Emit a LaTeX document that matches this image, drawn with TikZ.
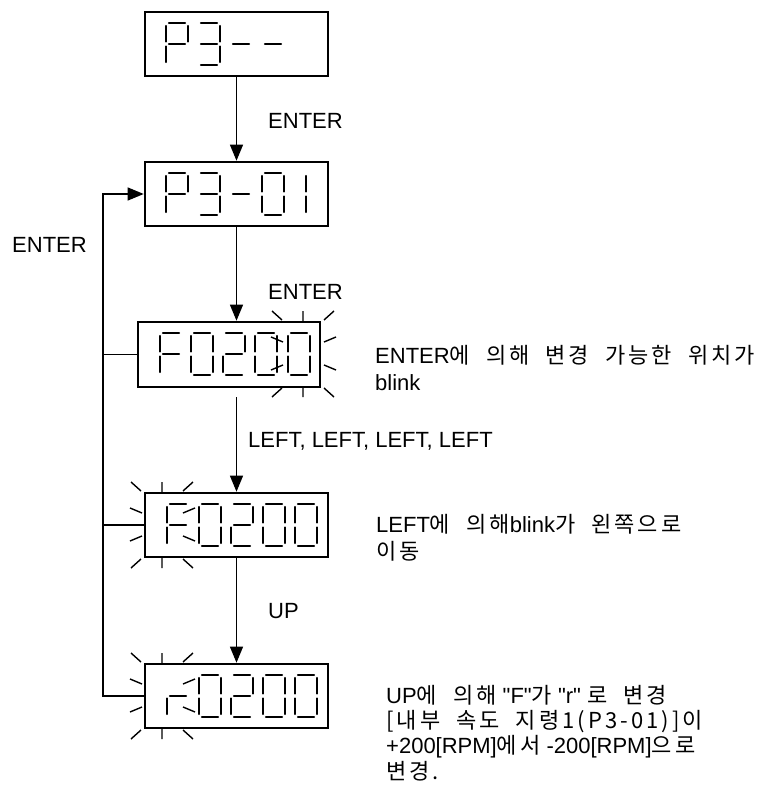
\documentclass[tikz,border=0pt]{standalone}
\usepackage{fontspec}
\setmainfont{Liberation Sans}[Ligatures=TeXOff]
\newfontfamily\kr{Noto Sans CJK KR}[Scale=1.0,LetterSpace=14,WordSpace=2.0,Ligatures=TeXOff]
\usetikzlibrary{arrows.meta}
\tikzset{
  dispbox/.style={draw, line width=2.6pt, minimum width=183pt, minimum height=64pt, inner sep=0pt},
  conn/.style={line width=1.2pt},
  arr/.style={conn, -{Triangle[length=16pt,width=13pt]}},
  seg/.style={line width=2.2pt, line cap=round},
  blinktick/.style={line width=1.4pt},
  lbl/.style={anchor=base west, inner sep=0pt, font=\fontsize{22}{26}\selectfont},
}
% seven segment digit: x, y(top), flags abcdefg
\newcommand\sevseg[3]{\begin{scope}[shift={(#1,#2)}]\mysegs#3\relax\end{scope}}
\def\mysegs#1#2#3#4#5#6#7\relax{%
  \ifnum#1=1 \draw[seg] (3,0)--(19,0);\fi
  \ifnum#2=1 \draw[seg] (22,3)--(22,18.5);\fi
  \ifnum#3=1 \draw[seg] (22,23.5)--(22,39);\fi
  \ifnum#4=1 \draw[seg] (3,42)--(19,42);\fi
  \ifnum#5=1 \draw[seg] (0,23.5)--(0,39);\fi
  \ifnum#6=1 \draw[seg] (0,3)--(0,18.5);\fi
  \ifnum#7=1 \draw[seg] (3,21)--(19,21);\fi}
% blink ticks around a digit: cx, box top
\newcommand\blinkmarks[2]{\begin{scope}[shift={(#1,#2)}]
  \draw[blinktick] (-21,-2)--(-31,-11) (0,-1)--(0,-11) (21,-2)--(31,-11)
    (-20,20)--(-32,15) (-20,43)--(-32,48) (21,20)--(33,15) (21,43)--(33,48)
    (-21,66)--(-31,75) (0,65)--(0,75) (21,66)--(31,75);
\end{scope}}
\begin{document}
\begin{tikzpicture}[x=1pt,y=-1pt]
\useasboundingbox (0,0) rectangle (778,792);
% boxes
\node[dispbox] (b1) at (236.5,44) {};
\node[dispbox] (b2) at (236.5,194) {};
\node[dispbox, minimum width=182pt, minimum height=65pt] (b3) at (229,354.5) {};
\node[dispbox] (b4) at (236.5,525) {};
\node[dispbox] (b5) at (236.5,696) {};
% digits box1: P3--
\sevseg{166}{23}{1100111}
\sevseg{198}{23}{1111001}
\sevseg{230}{23}{0000001}
\sevseg{262}{23}{0000001}
% box2: P3-01
\sevseg{166}{173}{1100111}
\sevseg{198}{173}{1111001}
\sevseg{230}{173}{0000001}
\sevseg{262}{173}{1111110}
\sevseg{284}{173}{0110000}
% box3: F0200
\sevseg{160}{333}{1000111}
\sevseg{191}{333}{1111110}
\sevseg{223}{333}{1101101}
\sevseg{255}{333}{1111110}
\sevseg{288}{333}{1111110}
\blinkmarks{303}{322}
% box4: F0200
\sevseg{167}{504}{1000111}
\sevseg{199}{504}{1111110}
\sevseg{231}{504}{1101101}
\sevseg{263}{504}{1111110}
\sevseg{295}{504}{1111110}
\blinkmarks{162}{493}
% box5: r0200
\sevseg{167}{675}{0000101}
\sevseg{199}{675}{1111110}
\sevseg{231}{675}{1101101}
\sevseg{263}{675}{1111110}
\sevseg{295}{675}{1111110}
\blinkmarks{162}{664}
% connectors
\coordinate (s3) at (236.5,397);
\coordinate (lp) at (103,696);
\draw[arr] (b1.south) -- (b2.north);
\draw[arr] (b2.south) -- (b2.south |- b3.north);
\draw[arr] (s3) -- (b4.north);
\draw[arr] (b4.south) -- (b5.north);
\draw[arr] (b5.west) -- (lp) |- (b2.west);
\draw[conn] (b3.west) -- (b3.west -| lp);
\draw[conn] (b4.west) -- (b4.west -| lp);
% labels
\node[lbl] (l1) at (268,128) {ENTER};
\node[lbl] (l2) at (12,252) {ENTER};
\node[lbl] (l3) at (268,299) {ENTER};
\node[lbl] (l4) at (248,447) {LEFT, LEFT, LEFT, LEFT};
\node[lbl] (l5) at (268,618) {UP};
% notes
\node[lbl] (t1) at (375,363) {ENTER{\kr 에 의해 변경 가능한 위치가}};
\node[lbl] (t2) at (375,390) {blink};
\node[lbl] (t3) at (376,532) {LEFT{\kr 에 의해}blink{\kr 가  왼쪽으로}};
\node[lbl] (t4) at (376,559) {{\kr 이동}};
\node[lbl] (t5) at (386,703) {UP{\kr 에 의해} "F"{\kr 가} "r" {\kr 로 변경}};
\node[lbl] (t6) at (386,728) {{\kr [내부 속도 지령1(P3-01)]이}};
\node[lbl] (t7) at (386,753) {+200[RPM]{\kr 에서} -200[RPM]{\kr 으로}};
\node[lbl] (t8) at (386,779) {{\kr 변경.}};
\end{tikzpicture}
\end{document}
